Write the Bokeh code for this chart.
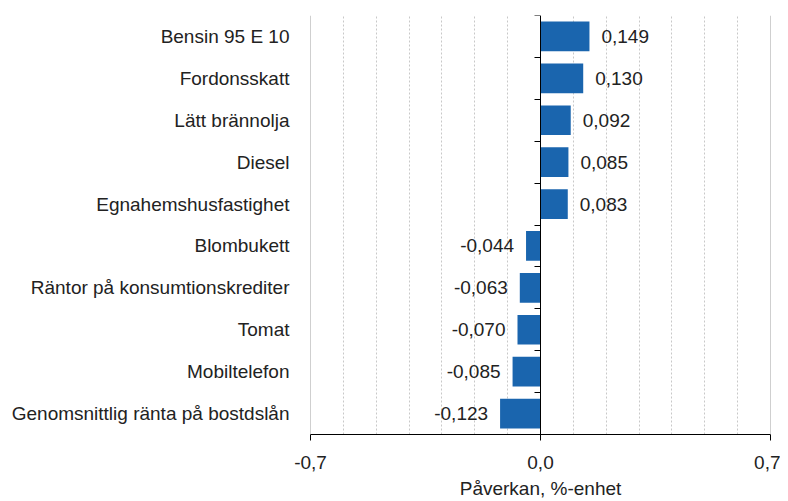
from bokeh.plotting import figure
from bokeh.models import (Range1d, LinearAxis, FixedTicker, Span,
                          ColumnDataSource, LabelSet)
from bokeh.core.properties import value
from bokeh.embed import file_html
from bokeh.resources import INLINE

categories = ["Bensin 95 E 10", "Fordonsskatt", "Lätt brännolja", "Diesel",
              "Egnahemshusfastighet", "Blombukett", "Räntor på konsumtionskrediter",
              "Tomat", "Mobiltelefon", "Genomsnittlig ränta på bostdslån"]
values = [0.149, 0.130, 0.092, 0.085, 0.083, -0.044, -0.063, -0.070, -0.085, -0.123]
x_ticks = [-0.7, 0.0, 0.7]
x_tick_labels = ["-0,7", "0,0", "0,7"]
x_title = "Påverkan, %-enhet"

FONT = "Liberation Sans"
FS = "19px"
TXT = "#222222"
BAR = "#1a65ae"

n = len(categories)
ypos = [n - i - 0.5 for i in range(n)]  # top category first

p = figure(width=780, height=501, y_range=Range1d(0, n),
           x_range=Range1d(-0.7, 0.7), output_backend="svg", toolbar_location=None,
           min_border_left=310, min_border_right=10, min_border_top=15, min_border_bottom=64)
p.outline_line_color = None
p.background_fill_color = "white"

labels = [("%.3f" % v).replace(".", ",") for v in values]
pos = [v >= 0 for v in values]
src_pos = ColumnDataSource(dict(y=[c for c, k in zip(ypos, pos) if k],
                                x=[v for v, k in zip(values, pos) if k],
                                t=[l for l, k in zip(labels, pos) if k]))
src_neg = ColumnDataSource(dict(y=[c for c, k in zip(ypos, pos) if not k],
                                x=[v for v, k in zip(values, pos) if not k],
                                t=[l for l, k in zip(labels, pos) if not k]))
src = ColumnDataSource(dict(y=ypos, x=values))

# grid
p.ygrid.grid_line_color = None
p.xgrid.ticker = FixedTicker(ticks=[round(-0.6 + 0.1 * i, 1) for i in range(13)])
p.xgrid.grid_line_color = "#c8c8c8"
p.xgrid.grid_line_dash = "2 2"
p.xgrid.grid_line_width = 1
for xv in x_ticks[::2]:
    p.add_layout(Span(location=xv, dimension="height", line_color="#a0a0a0", line_width=1))

p.hbar(y="y", right="x", left=0, height=0.71, source=src, color=BAR, line_color=None)

p.add_layout(LabelSet(x="x", y="y", text="t", source=src_pos, x_offset=12, text_align="left",
                      text_baseline="middle", text_font=value(FONT), text_font_size=value(FS),
                      text_color=TXT))
p.add_layout(LabelSet(x="x", y="y", text="t", source=src_neg, x_offset=-12, text_align="right",
                      text_baseline="middle", text_font=value(FONT), text_font_size=value(FS),
                      text_color=TXT))

# left category labels
ya = p.yaxis[0]
ya.ticker = FixedTicker(ticks=ypos)
ya.major_label_overrides = {y: c for y, c in zip(ypos, categories)}
ya.axis_line_color = None
ya.major_tick_line_color = None
ya.minor_tick_line_color = None
ya.major_label_standoff = 15
ya.major_label_text_font = FONT
ya.major_label_text_font_size = FS
ya.major_label_text_color = TXT

# axis at zero
zax = LinearAxis(fixed_location=0, ticker=FixedTicker(ticks=list(range(1, n + 1))))
zax.axis_line_color = "black"
zax.major_tick_line_color = "black"
zax.major_tick_out = 6
zax.major_tick_in = 0
zax.minor_tick_line_color = None
zax.major_label_text_font_size = "0px"
zax.major_label_text_alpha = 0
p.add_layout(zax, "left")

# bottom axis
xa = p.xaxis[0]
xa.ticker = FixedTicker(ticks=x_ticks)
xa.major_label_overrides = {t: l for t, l in zip(x_ticks, x_tick_labels)}
xa.axis_line_color = "black"
xa.major_tick_line_color = "black"
xa.major_tick_out = 6
xa.major_tick_in = 0
xa.minor_tick_line_color = None
xa.major_label_text_font = FONT
xa.major_label_text_font_size = FS
xa.major_label_text_color = TXT
xa.major_label_standoff = 15
xa.axis_label = x_title
xa.axis_label_text_font = FONT
xa.axis_label_text_font_size = FS
xa.axis_label_text_font_style = "normal"
xa.axis_label_text_color = TXT
xa.axis_label_standoff = 6

open("out.html", "w").write(file_html(p, INLINE))
